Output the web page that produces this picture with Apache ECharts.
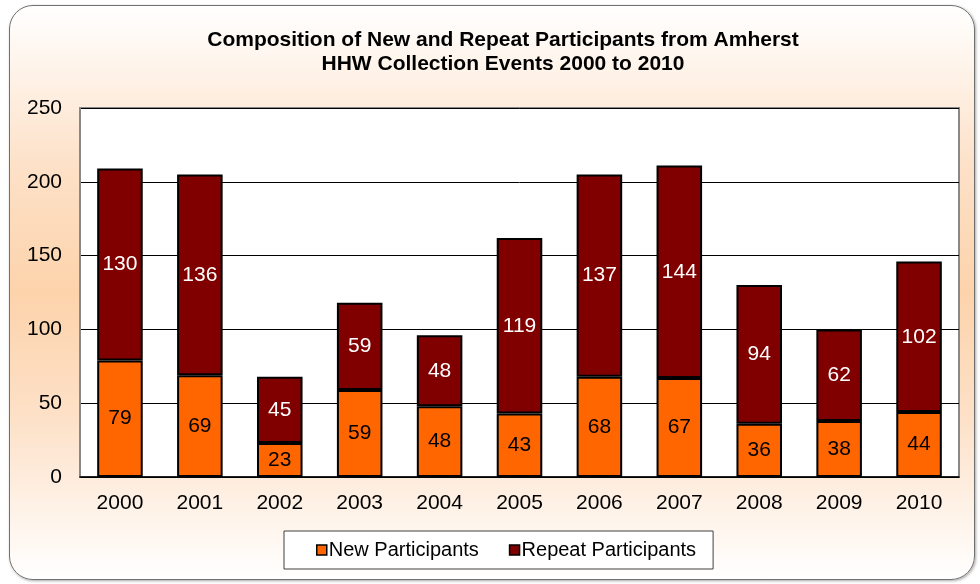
<!DOCTYPE html>
<html>
<head>
<meta charset="utf-8">
<script src="https://cdn.jsdelivr.net/npm/echarts@6/dist/echarts.min.js"></script>
<style>
  html, body { margin: 0; padding: 0; background: #fff; }
  #wrap { position: relative; width: 980px; height: 584px; }
  #frame {
    position: absolute; left: 9px; top: 5px; width: 966px; height: 575px;
    border: 1.5px solid #707070; border-radius: 24px; box-sizing: border-box;
    background: linear-gradient(to bottom, #ffffff 0%, #fde1c8 28%, #fdd3ab 50%, #fde1c8 72%, #ffffff 100%);
    box-shadow: 1px 1px 3px rgba(0,0,0,0.35);
  }
  #main { position: absolute; left: 0; top: 0; width: 980px; height: 584px; }
</style>
</head>
<body>
<div id="wrap">
  <div id="frame"></div>
  <div id="main"></div>
</div>
<script>
// chart data
var years = ["2000", "2001", "2002", "2003", "2004", "2005", "2006", "2007", "2008", "2009", "2010"];
var newParticipants = [79, 69, 23, 59, 48, 43, 68, 67, 36, 38, 44];
var repeatParticipants = [130, 136, 45, 59, 48, 119, 137, 144, 94, 62, 102];
var yTicks = [0, 50, 100, 150, 200, 250];

var font = "'Liberation Sans', Arial, sans-serif";
var myChart = echarts.init(document.getElementById("main"));

var option = {
  backgroundColor: "transparent",
  title: {
    text: "Composition of New and Repeat Participants from Amherst\nHHW Collection Events 2000 to 2010",
    left: 498,
    textAlign: "center",
    top: 23,
    textStyle: { fontFamily: font, fontSize: 21, fontWeight: "bold", color: "#000", lineHeight: 24 }
  },
  legend: {
    bottom: 15,
    left: 284,
    data: ["New Participants", "Repeat Participants"],
    icon: "rect",
    itemWidth: 10,
    itemHeight: 10,
    itemGap: 30,
    padding: [9, 17, 9, 32],
    backgroundColor: "#fff",
    borderColor: "#404040",
    borderWidth: 1,
    textStyle: { fontFamily: font, fontSize: 20, color: "#000", padding: [0, 0, 0, -3] },
    itemStyle: { borderColor: "#000", borderWidth: 1.5 }
  },
  grid: {
    left: 80,
    right: 21,
    top: 108,
    bottom: 107,
    show: true,
    backgroundColor: "#fff",
    borderColor: "#888",
    borderWidth: 2
  },
  xAxis: {
    type: "category",
    data: years,
    axisTick: { show: false },
    axisLine: { lineStyle: { color: "#000", width: 1.5 } },
    axisLabel: { fontFamily: font, fontSize: 21, color: "#000", margin: 16 }
  },
  yAxis: {
    type: "value",
    min: yTicks[0],
    max: yTicks[yTicks.length - 1],
    interval: 50,
    axisLine: { show: true, lineStyle: { color: "#888", width: 2 } },
    axisTick: { show: false },
    splitLine: { lineStyle: { color: "#000", width: 1 } },
    axisLabel: { fontFamily: font, fontSize: 21, color: "#000", margin: 18 }
  },
  series: [
    {
      name: "New Participants",
      type: "bar",
      stack: "total",
      barWidth: "57%",
      data: newParticipants,
      itemStyle: { color: "#FF6600", borderColor: "#000", borderWidth: 2 },
      label: { show: true, position: "inside", fontFamily: font, fontSize: 21, color: "#000" }
    },
    {
      name: "Repeat Participants",
      type: "bar",
      stack: "total",
      barWidth: "57%",
      data: repeatParticipants,
      itemStyle: { color: "#800000", borderColor: "#000", borderWidth: 2 },
      label: { show: true, position: "inside", fontFamily: font, fontSize: 21, color: "#fff" }
    }
  ]
};
myChart.setOption(option);
</script>
</body>
</html>
